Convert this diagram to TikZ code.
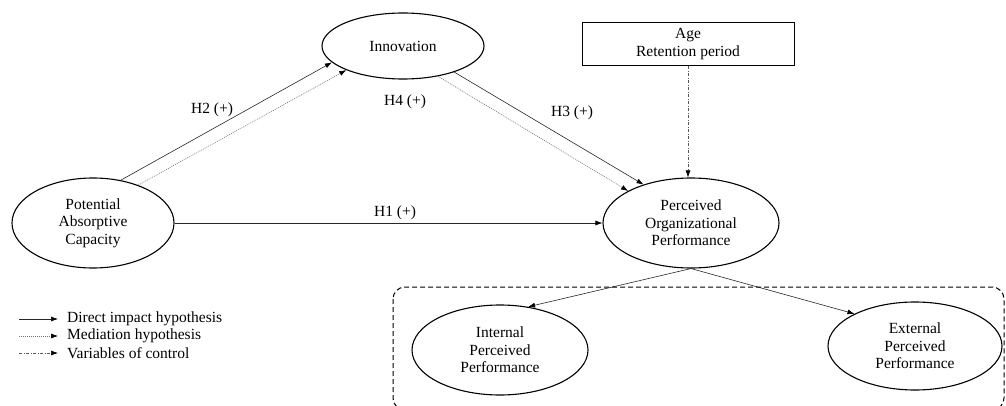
\documentclass[tikz,border=0pt]{standalone}
\usepackage{fontspec}
\setmainfont{Liberation Serif}
\usepackage{tikz}
\usetikzlibrary{shapes.geometric,arrows.meta,positioning,calc}

\begin{document}
\begin{tikzpicture}[
  x=1pt,y=-1pt,
  latent/.style={draw=black,ellipse,line width=1.1pt,inner sep=0pt,
                 font=\fontsize{15.5}{17.5}\selectfont,align=center},
  ctrlbox/.style={draw=black,line width=1pt,inner sep=0pt,
                  minimum width=212pt,minimum height=43pt,
                  font=\fontsize{15.5}{18}\selectfont,align=center},
  hlabel/.style={font=\fontsize{15.5}{17.5}\selectfont},
  legtext/.style={anchor=west,inner sep=0pt,font=\fontsize{15.5}{17}\selectfont},
  arrow/.style={-{Latex[length=7pt,width=5pt,color=black]},line width=0.6pt,color=black!85},
  darrow/.style={-{Latex[length=7pt,width=5pt,color=black]},line width=0.6pt,color=black!55,
                 dash pattern=on 1pt off 1pt},
  carrow/.style={-{Latex[length=7pt,width=5pt,color=black]},line width=0.6pt,color=black!65,
                 dash pattern=on 3pt off 1.5pt on 1pt off 1.5pt}
]
\useasboundingbox (0,0) rectangle (1006,406);

% Constructos
\node[latent,minimum width=162pt,minimum height=90pt] (pac) at (93,223)
  {Potential\\Absorptive\\Capacity};
\node[latent,minimum width=162pt,minimum height=66pt] (inno) at (403,46)
  {Innovation};
\node[latent,minimum width=176pt,minimum height=90pt] (pop) at (691,223)
  {Perceived\\Organizational\\Performance};
\node[latent,minimum width=176pt,minimum height=90pt] (ipp) at (500,350)
  {Internal\\Perceived\\Performance};
\node[latent,minimum width=174pt,minimum height=88pt] (epp) at (915,346)
  {External\\Perceived\\Performance};

% Variables de control
\node[ctrlbox] (ctrl) at (688,44.5) {Age\\Retention period};

% Hipotesis
\draw[arrow] (pac.east) -- (pop.west);
\draw[arrow] (pac.57) -- (inno.193.5);
\draw[darrow] (pac.40.4) -- (inno.203.1);
\draw[arrow] (inno.333.4) -- (pop.141.2);
\draw[darrow] (inno.319.1) -- (pop.153.8);
\draw[carrow] (ctrl.south) -- (ctrl.south |- pop.north);

% Dimensiones
\draw[arrow] (pop.south) -- (ipp.57.4);
\draw[arrow] (pop.south) -- (epp.152);

% Etiquetas
\node[hlabel] (h1) at (395,213) {H1 (+)};
\node[hlabel] (h2) at (212,110) {H2 (+)};
\node[hlabel] (h3) at (572,113) {H3 (+)};
\node[hlabel] (h4) at (405,102) {H4 (+)};

% Grupo de dimensiones
\draw[line width=1pt,dash pattern=on 5pt off 3pt,rounded corners=12pt]
  (393,287) rectangle (1004,410);

% Leyenda
\coordinate (l1) at (19,319);
\coordinate (l2) at (19,336);
\coordinate (l3) at (19,353);
\node[legtext] (t1) at (67,319) {Direct impact hypothesis};
\node[legtext] (t2) at (67,336) {Mediation hypothesis};
\node[legtext] (t3) at (67,353) {Variables of control};
\draw[arrow,shorten >=9pt] (l1) -- (t1.west);
\draw[darrow,shorten >=9pt] (l2) -- (t2.west);
\draw[carrow,shorten >=9pt] (l3) -- (t3.west);

\end{tikzpicture}
\end{document}
